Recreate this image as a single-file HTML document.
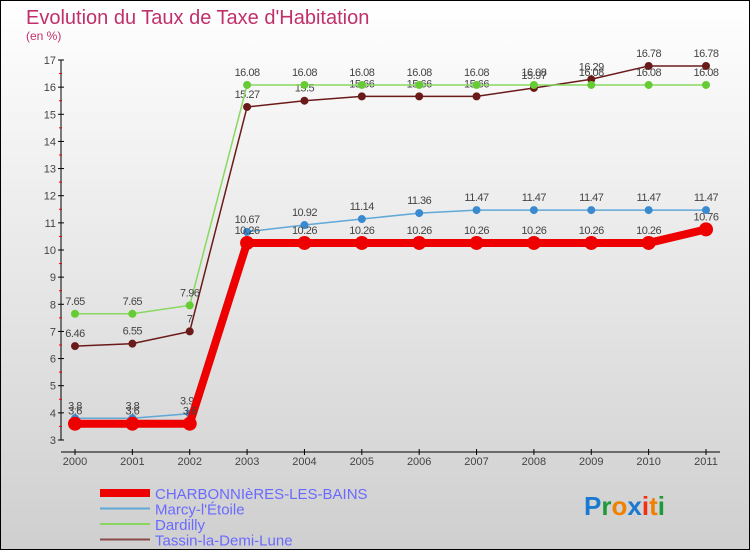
<!DOCTYPE html>
<html><head><meta charset="utf-8"><style>
body{margin:0;width:750px;height:550px;overflow:hidden;font-family:"Liberation Sans",sans-serif}
</style></head><body>
<svg id="c" width="750" height="550" xmlns="http://www.w3.org/2000/svg">
<defs><linearGradient id="bg" x1="0" y1="0" x2="0" y2="1"><stop offset="0" stop-color="#ffffff"/><stop offset="1" stop-color="#cfcfcf"/></linearGradient></defs>
<rect x="0.5" y="0.5" width="749" height="549" fill="url(#bg)" stroke="#000"/>
<text x="26" y="24" font-size="20" fill="#c0306a">Evolution du Taux de Taxe d'Habitation</text>
<text x="26" y="40" font-size="12" fill="#c0306a">(en %)</text>
<g id="axes"></g><g id="series"></g><g id="legend"></g>
<text x="584" y="515" font-size="26" font-weight="bold"><tspan fill="#1a7ad0">P</tspan><tspan fill="#1e9a3a">r</tspan><tspan fill="#f08000">o</tspan><tspan fill="#1a7ad0">x</tspan><tspan fill="#f03010">i</tspan><tspan fill="#f08000">t</tspan><tspan fill="#1e9a3a">i</tspan></text>
</svg>
<script>
const years=[2000,2001,2002,2003,2004,2005,2006,2007,2008,2009,2010,2011];
const yTicks=[3,4,5,6,7,8,9,10,11,12,13,14,15,16,17];
const charbonnieres=[3.6,3.6,3.6,10.26,10.26,10.26,10.26,10.26,10.26,10.26,10.26,10.76];
const marcy=[3.8,3.8,3.97,10.67,10.92,11.14,11.36,11.47,11.47,11.47,11.47,11.47];
const dardilly=[7.65,7.65,7.96,16.08,16.08,16.08,16.08,16.08,16.08,16.08,16.08,16.08];
const tassin=[6.46,6.55,7,15.27,15.5,15.66,15.66,15.66,15.97,16.29,16.78,16.78];
const names=["CHARBONNIèRES-LES-BAINS","Marcy-l'Étoile","Dardilly","Tassin-la-Demi-Lune"];
const NS="http://www.w3.org/2000/svg";
const x=i=>75+i*(631/11);
const y=v=>440-(v-3)*(380/14);
function el(t,a,p){const e=document.createElementNS(NS,t);for(const k in a)e.setAttribute(k,a[k]);p.appendChild(e);return e;}
const ax=document.getElementById('axes');
const yl=el('line',{x1:61,y1:60,x2:61,y2:440,stroke:'#000'},ax);


const xl=el('line',{x1:61,y1:452,x2:720,y2:452,stroke:'#000'},ax);


yTicks.forEach(v=>{
  el('line',{x1:58,y1:y(v),x2:64,y2:y(v),stroke:'#000'},ax);
  if(v<17) el('line',{x1:59,y1:y(v+0.5),x2:62,y2:y(v+0.5),stroke:'#e00'},ax);
  const t=el('text',{x:56,y:y(v)+4,'font-size':11,fill:'#444','text-anchor':'end'},ax);t.textContent=v;
  
  
});
years.forEach((yr,i)=>{
  el('line',{x1:x(i),y1:449,x2:x(i),y2:455,stroke:'#000'},ax);
  const t=el('text',{x:x(i),y:465,'font-size':11,fill:'#444','text-anchor':'middle'},ax);t.textContent=yr;
  
  
});
const sg=document.getElementById('series');
const defs=[
 {d:tassin,c:'#6b1a1a',w:1.5,r:4,n:'series-tassin'},
 {d:dardilly,c:'#88d860',w:1.5,r:4,n:'series-dardilly',fc:'#66cc33'},
 {d:marcy,c:'#5fa8d8',w:1.5,r:4,n:'series-marcy',fc:'#3a8ad0'},
 {d:charbonnieres,c:'#ee0000',w:8,r:7,n:'series-charbonnieres'}];
defs.forEach(s=>{
  const g=el('g',{},sg);
  
  
  el('polyline',{points:s.d.map((v,i)=>x(i)+','+y(v)).join(' '),fill:'none',stroke:s.c,'stroke-width':s.w},g);
  s.d.forEach((v,i)=>{
    const p=el('circle',{cx:x(i),cy:y(v),r:s.r,fill:s.fc||s.c},g);
    
    
    const t=el('text',{x:x(i),y:y(v)-9,'font-size':11,fill:'#444','text-anchor':'middle','letter-spacing':'-0.5'},g);t.textContent=v;
  });
});
const lg=document.getElementById('legend');
const lc=[['#ee0000',8],['#5fa8d8',2],['#88d860',2],['#8b4a4a',2]];
names.forEach((n,i)=>{
  const yy=493+i*15.5;
  const g=el('g',{},lg);
  
  
  el('line',{x1:100,y1:yy,x2:150,y2:yy,stroke:lc[i][0],'stroke-width':lc[i][1]},g);
  const t=el('text',{x:155,y:yy+6,'font-size':15,fill:'#6a6aff'},g);t.textContent=n;
});
</script>
</body></html>
